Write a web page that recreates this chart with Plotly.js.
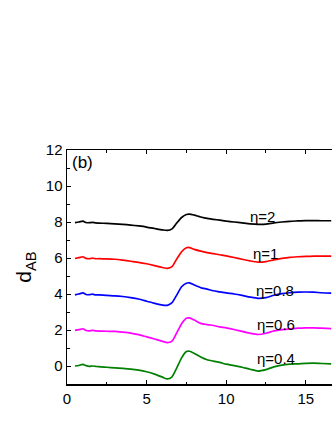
<!DOCTYPE html>
<html>
<head>
<meta charset="utf-8">
<script src="https://cdn.plot.ly/plotly-3.0.1.min.js"></script>
<style>
  html, body { margin: 0; padding: 0; background: #fff; }
  #chart { width: 332px; height: 430px; }
</style>
</head>
<body>
<div id="chart"></div>
<script>
// time axis, shared by all curves
var tVals = [0.5, 0.75, 1.0, 1.2, 1.4, 1.6, 1.8, 2.0, 2.5, 3.0, 3.5, 4.0, 4.5, 5.0, 5.5, 6.0, 6.3, 6.6, 6.9, 7.2,
             7.5, 7.7, 8.0, 8.4, 8.8, 9.2, 9.6, 10, 10.5, 11, 11.5, 12, 12.5, 13, 13.5, 14, 14.5, 15, 15.5, 16, 16.6];

var d_eta04 = [0.0, 0.03, 0.09, 0.02, -0.02, 0.0, -0.02, -0.04, -0.07, -0.1, -0.13, -0.17, -0.23, -0.32, -0.45, -0.62, -0.72, -0.6, -0.1, 0.45,
               0.8, 0.82, 0.7, 0.5, 0.35, 0.27, 0.2, 0.1, 0.02, -0.07, -0.18, -0.28, -0.2, -0.05, 0.05, 0.1, 0.12, 0.15, 0.16, 0.14, 0.12];
var d_eta06 = [1.98, 2.02, 2.07, 1.97, 1.95, 1.98, 1.95, 1.94, 1.93, 1.92, 1.88, 1.83, 1.74, 1.62, 1.5, 1.37, 1.3, 1.38, 1.85, 2.35,
               2.65, 2.67, 2.55, 2.37, 2.3, 2.25, 2.17, 2.12, 2.03, 1.92, 1.82, 1.75, 1.82, 1.95, 2.02, 2.06, 2.1, 2.12, 2.12, 2.1, 2.08];
var d_eta08 = [3.95, 4.0, 4.06, 3.97, 3.96, 3.99, 3.95, 3.95, 3.92, 3.9, 3.86, 3.8, 3.72, 3.6, 3.48, 3.38, 3.37, 3.52, 3.95, 4.4,
               4.6, 4.62, 4.5, 4.35, 4.27, 4.18, 4.12, 4.06, 4.0, 3.92, 3.83, 3.76, 3.8, 3.93, 4.02, 4.07, 4.1, 4.11, 4.1, 4.07, 4.05];
var d_eta1 = [5.97, 6.02, 6.07, 5.98, 5.96, 5.99, 5.96, 5.96, 5.95, 5.93, 5.88, 5.82, 5.76, 5.68, 5.58, 5.47, 5.42, 5.52, 5.95, 6.35,
              6.57, 6.58, 6.48, 6.38, 6.3, 6.24, 6.18, 6.12, 6.03, 5.93, 5.84, 5.77, 5.8, 5.9, 5.98, 6.04, 6.07, 6.09, 6.1, 6.1, 6.1];
var d_eta2 = [7.97, 8.0, 8.05, 7.97, 7.96, 7.98, 7.95, 7.94, 7.92, 7.9, 7.87, 7.83, 7.78, 7.72, 7.64, 7.56, 7.53, 7.62, 7.95, 8.25,
              8.42, 8.44, 8.38, 8.28, 8.2, 8.15, 8.1, 8.05, 8.0, 7.95, 7.9, 7.87, 7.88, 7.95, 8.0, 8.04, 8.06, 8.08, 8.08, 8.07, 8.07];

var curveNames = ['η=0.4', 'η=0.6', 'η=0.8', 'η=1', 'η=2'];
var curveColors = ['#008000', '#ff00ff', '#0000ff', '#ff0000', '#000000'];
var curveData = [d_eta04, d_eta06, d_eta08, d_eta1, d_eta2];

// label anchor positions (data coords)
var labelX = [13.1, 13.1, 13.05, 12.5, 12.3];
var labelY = [0.41, 2.31, 4.21, 6.24, 8.3];

var fontFam = 'Arial, "Liberation Sans", sans-serif';

var traces = [];
var annots = [];
for (let i = 0; i < curveData.length; i++) {
  traces.push({
    x: tVals, y: curveData[i],
    mode: 'lines', name: curveNames[i],
    line: {color: curveColors[i], width: 1.7, shape: 'spline', smoothing: 0.6},
    hoverinfo: 'skip'
  });
  annots.push({
    x: labelX[i], y: labelY[i], xref: 'x', yref: 'y',
    text: curveNames[i], showarrow: false,
    font: {family: fontFam, size: 15, color: '#000'}
  });
}
annots.push({
  x: 0.01, y: 0.995, xref: 'paper', yref: 'paper', xanchor: 'left', yanchor: 'top',
  text: '(b)', showarrow: false,
  font: {family: fontFam, size: 17, color: '#000'}
});

Plotly.newPlot('chart', traces, {
  width: 332, height: 430,
  margin: {l: 66.5, r: 0, t: 150, b: 46, pad: 0},
  showlegend: false,
  paper_bgcolor: '#fff', plot_bgcolor: '#fff',
  font: {family: fontFam, size: 15, color: '#000'},
  xaxis: {
    range: [0, 16.65], dtick: 5, tick0: 0,
    ticks: 'inside', ticklen: 4, tickwidth: 1, tickcolor: '#000',
    minor: {dtick: 2.5, ticks: 'inside', ticklen: 2.5, tickcolor: '#000'},
    showline: true, linecolor: '#000', linewidth: 1.5, mirror: 'ticks',
    showgrid: false, zeroline: false,
    tickfont: {family: fontFam, size: 15, color: '#000'}
  },
  yaxis: {
    range: [-1, 12], dtick: 2, tick0: 0,
    ticks: 'inside', ticklen: 4, tickwidth: 1, tickcolor: '#000',
    minor: {dtick: 1, ticks: 'inside', ticklen: 2.5, tickcolor: '#000'},
    showline: true, linecolor: '#000', linewidth: 1.5,
    showgrid: false, zeroline: false,
    tickfont: {family: fontFam, size: 15, color: '#000'},
    title: {text: 'd<sub>AB</sub>', font: {family: fontFam, size: 21, color: '#000'}, standoff: 8}
  },
  annotations: annots
}, {staticPlot: true});
</script>
</body>
</html>
